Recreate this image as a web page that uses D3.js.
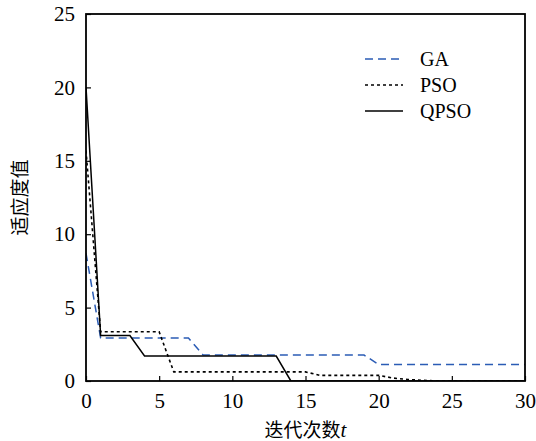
<!DOCTYPE html>
<html>
<head>
<meta charset="utf-8">
<script src="https://cdn.jsdelivr.net/npm/d3@7"></script>
<style>
  body { margin: 0; background: #fff; }
  text { font-family: "Liberation Serif", "DejaVu Serif", serif; fill: #000; }
  .cjk { font-family: "Noto Sans CJK SC", sans-serif; }
</style>
</head>
<body>
<div id="chart"></div>
<script>
// iterations 0..30
const iterations = d3.range(0, 31);
const gaValues = [8.7, 2.93, 2.93, 2.93, 2.93, 2.93, 2.93, 2.93, 1.77, 1.77, 1.77, 1.77, 1.77, 1.77, 1.77, 1.77, 1.77, 1.77, 1.77, 1.77,
  1.12, 1.12, 1.12, 1.12, 1.12, 1.12, 1.12, 1.12, 1.12, 1.12, 1.12];
const psoValues = [15.7, 3.35, 3.35, 3.35, 3.35, 3.35, 0.62, 0.62, 0.62, 0.62, 0.62, 0.62, 0.62, 0.62, 0.62, 0.62, 0.38, 0.38, 0.38, 0.38,
  0.38, 0.2, 0.1, 0.05, 0, 0, 0, 0, 0, 0, 0];
const qpsoValues = [20, 3.1, 3.1, 3.1, 1.7, 1.7, 1.7, 1.7, 1.7, 1.7, 1.7, 1.7, 1.7, 1.7, 0, 0, 0, 0, 0, 0,
  0, 0, 0, 0, 0, 0, 0, 0, 0, 0, 0];
const xTicks = [0, 5, 10, 15, 20, 25, 30];
const yTicks = [0, 5, 10, 15, 20, 25];
const seriesNames = ["GA", "PSO", "QPSO"];

const width = 536, height = 441;
const margin = {top: 14, right: 11, bottom: 60, left: 86};
const w = width - margin.left - margin.right;
const h = height - margin.top - margin.bottom;

const svg = d3.select("#chart").append("svg")
    .attr("width", width)
    .attr("height", height);
const g = svg.append("g")
    .attr("transform", "translate(" + margin.left + "," + margin.top + ")");

const x = d3.scaleLinear().domain([0, 30]).range([0, w]);
const y = d3.scaleLinear().domain([0, 25]).range([h, 0]);

// axes with inward ticks
g.append("g")
    .attr("transform", "translate(0," + h + ")")
    .call(d3.axisBottom(x).tickValues(xTicks).tickSizeInner(-5).tickSizeOuter(0).tickPadding(12))
    .call(a => a.select(".domain").remove())
    .call(a => a.selectAll("text").style("font-size", "21px").attr("font-family", null))
    .call(a => a.selectAll("line").attr("stroke-width", 1.2));

g.append("g")
    .call(d3.axisLeft(y).tickValues(yTicks).tickSizeInner(-5).tickSizeOuter(0).tickPadding(11))
    .call(a => a.select(".domain").remove())
    .call(a => a.selectAll("text").style("font-size", "21px").attr("font-family", null))
    .call(a => a.selectAll("line").attr("stroke-width", 1.2));

const line = d3.line()
    .x((d, i) => x(iterations[i]))
    .y(d => y(d));

const styles = [
  {data: gaValues, color: "#2b5cb5", dash: "8,5", width: 1.5},
  {data: psoValues, color: "#000", dash: "3,3", width: 1.6},
  {data: qpsoValues, color: "#000", dash: null, width: 1.5}
];

const clip = svg.append("defs").append("clipPath").attr("id", "clip")
  .append("rect").attr("width", w).attr("height", h);

const lines = g.append("g").attr("clip-path", "url(#clip)");
styles.forEach(s => {
  lines.append("path")
    .datum(s.data)
    .attr("fill", "none")
    .attr("stroke", s.color)
    .attr("stroke-width", s.width)
    .attr("stroke-dasharray", s.dash)
    .attr("d", line);
});

// frame
g.append("rect")
    .attr("width", w)
    .attr("height", h)
    .attr("fill", "none")
    .attr("stroke", "#000")
    .attr("stroke-width", 1.8);

// legend
const legend = g.append("g").attr("transform", "translate(279,45)");
styles.forEach((s, i) => {
  const row = legend.append("g").attr("transform", "translate(0," + (i * 26) + ")");
  row.append("line")
    .attr("x1", 0).attr("x2", 38)
    .attr("stroke", s.color)
    .attr("stroke-width", s.width)
    .attr("stroke-dasharray", s.dash);
  row.append("text")
    .attr("x", 55)
    .attr("dy", "0.35em")
    .style("font-size", "20px")
    .text(seriesNames[i]);
});

// axis titles
const xt = svg.append("text")
    .attr("x", margin.left + w / 2)
    .attr("y", 437)
    .attr("text-anchor", "middle")
    .style("font-size", "19px");
xt.append("tspan").attr("class", "cjk").text("迭代次数");
xt.append("tspan").style("font-style", "italic").style("font-size", "21px").text("t");

svg.append("text")
    .attr("class", "cjk")
    .attr("transform", "translate(27," + (margin.top + h / 2) + ") rotate(-90)")
    .attr("text-anchor", "middle")
    .style("font-size", "19px")
    .text("适应度值");
</script>
</body>
</html>
